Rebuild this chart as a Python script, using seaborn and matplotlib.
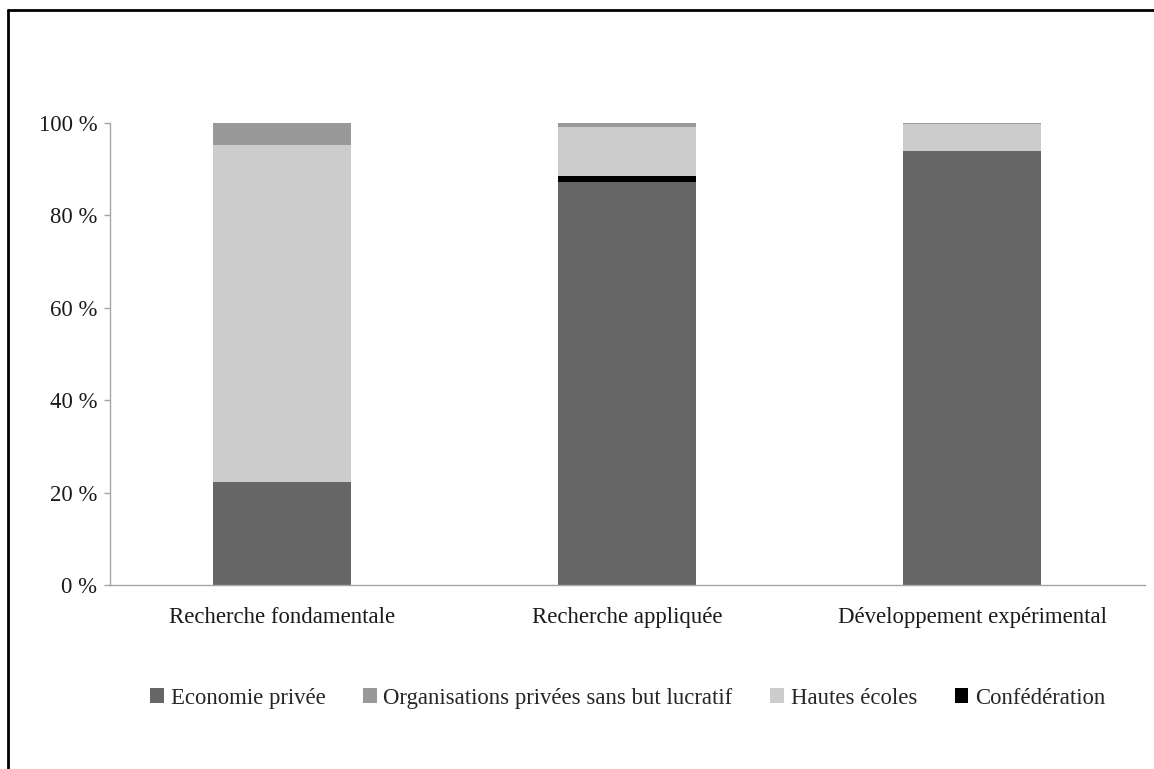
import numpy as np
import matplotlib
matplotlib.use('Agg')
import matplotlib.pyplot as plt
from matplotlib.lines import Line2D
from matplotlib.patches import Patch
import seaborn as sns

categories = ['Recherche fondamentale', 'Recherche appliquée', 'Développement expérimental']
economie = [22.3, 87.2, 93.9]
confederation = [0.0, 1.4, 0.0]
hautes_ecoles = [72.9, 10.6, 5.8]
organisations = [4.8, 0.8, 0.3]
y_ticks = [0, 20, 40, 60, 80, 100]
y_labels = ['0 %', '20 %', '40 %', '60 %', '80 %', '100 %']

legend_names = ['Economie privée', 'Organisations privées sans but lucratif',
                'Hautes écoles', 'Confédération']
legend_colors = ['#666666', '#999999', '#cccccc', '#000000']

sns.set_style('white')
plt.rcParams['font.family'] = ['Liberation Serif', 'DejaVu Serif']

fig = plt.figure(figsize=(11.54, 7.69), dpi=100)
ax = fig.add_axes([0.0953, 0.2393, 0.8969, 0.6007])

# stacked: draw cumulative totals, tallest first
econ = np.array(economie)
conf = econ + np.array(confederation)
haut = conf + np.array(hautes_ecoles)
org = haut + np.array(organisations)

layers = [(org, '#999999'), (haut, '#cccccc'), (conf, '#000000'), (econ, '#666666')]
for vals, col in layers:
    sns.barplot(x=categories, y=vals, color=col, width=0.4, ax=ax,
                saturation=1, linewidth=0)

ax.set_xlim(-0.5, 2.5)
ax.set_ylim(0, 100)
ax.set_yticks(y_ticks)
ax.set_yticklabels(y_labels)
ax.set_xticks([0.5, 1.5, 2.5], minor=True)
ax.tick_params(axis='x', which='major', length=0, pad=16, labelsize=16.4, colors='#1a1a1a')
ax.tick_params(axis='x', which='minor', length=4, color='#a6a6a6', width=1)
ax.tick_params(axis='y', length=4, width=1, pad=5, labelsize=16.4,
               left=True, colors='#1a1a1a')
ax.tick_params(axis='y', color='#a6a6a6')
for side in ['top', 'right']:
    ax.spines[side].set_visible(False)
for side in ['left', 'bottom']:
    ax.spines[side].set_color('#a6a6a6')
    ax.spines[side].set_linewidth(1)
ax.set_xlabel('')
ax.set_ylabel('')

handles = [Patch(facecolor=c, edgecolor='none') for c in legend_colors]
fig.legend(handles, legend_names, loc='center', bbox_to_anchor=(0.544, 0.092),
           ncol=4, frameon=False, fontsize=16.4, handlelength=0.6, handleheight=0.6,
           handletextpad=0.3, columnspacing=1.65)

# outer frame (top and left edges)
fig.add_artist(Line2D([0.007, 1.0], [0.987, 0.987], transform=fig.transFigure,
                      color='black', linewidth=2))
fig.add_artist(Line2D([0.007, 0.007], [0.0, 0.987], transform=fig.transFigure,
                      color='black', linewidth=2))

fig.savefig('out.png', dpi=100, facecolor='white')
